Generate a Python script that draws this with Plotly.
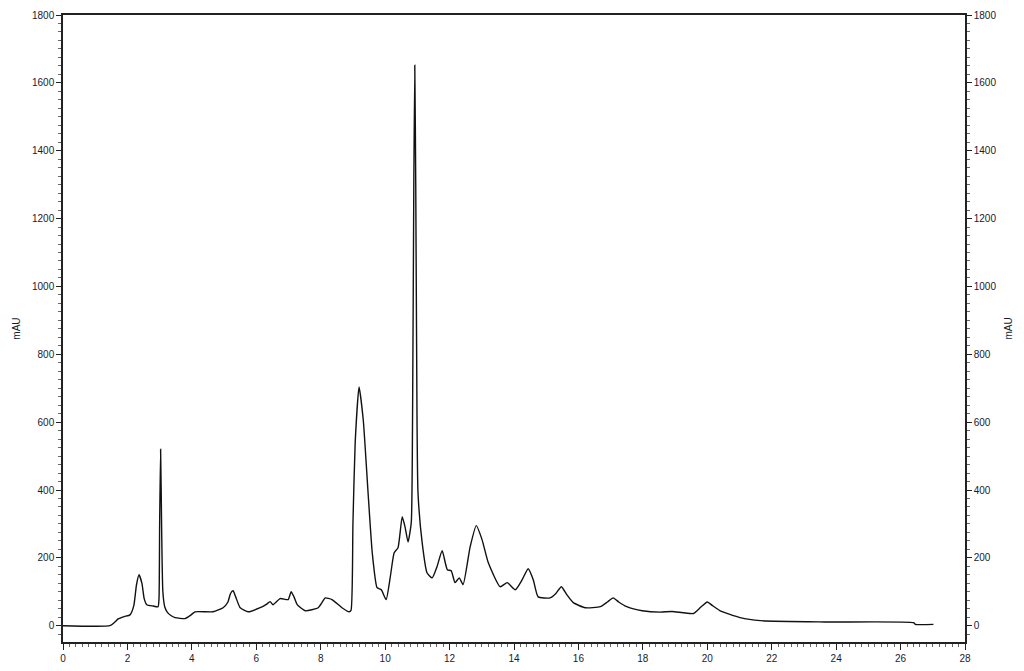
import plotly.graph_objects as go

# retention time (min) and absorbance (mAU)
time_min = [
    0.0, 1.46, 1.6, 1.71, 1.9, 2.08, 2.2, 2.28, 2.36, 2.45, 2.52, 2.6, 2.8, 2.95,
    2.98, 3.0, 3.03, 3.06, 3.1, 3.16, 3.23, 3.35, 3.48, 3.79, 3.95, 4.1, 4.66,
    4.97, 5.12, 5.2, 5.28, 5.36, 5.5, 5.75, 6.12, 6.3, 6.43, 6.52, 6.74, 6.99,
    7.08, 7.17, 7.27, 7.52, 7.92, 8.05, 8.14, 8.35, 8.66, 8.88, 8.94, 9.0, 9.07,
    9.19, 9.32, 9.47, 9.6, 9.75, 9.88, 10.03, 10.16, 10.28, 10.4, 10.53, 10.62,
    10.71, 10.81, 10.85, 10.89, 10.92, 10.95, 10.99, 11.02, 11.15, 11.3, 11.46,
    11.61, 11.77, 11.93, 12.05, 12.17, 12.3, 12.42, 12.64, 12.83, 13.01, 13.2,
    13.57, 13.79, 14.04, 14.25, 14.44, 14.6, 14.75, 15.12, 15.3, 15.47, 15.65,
    15.84, 16.21, 16.68, 16.9, 17.08, 17.25, 17.5, 17.98, 18.54, 18.91, 19.57,
    19.8, 20.0, 20.15, 20.4, 21.02, 21.65, 23.66, 26.4, 26.46, 27.02,
]
absorbance_mau = [
    0, 0, 10, 20, 27, 32, 60, 120, 150, 125, 80, 62, 58, 56,
    80, 300, 520, 300, 100, 55, 41, 30, 24, 21, 30, 41, 41,
    53, 70, 95, 103, 85, 53, 41, 53, 62, 71, 62, 80, 77,
    100, 85, 62, 44, 53, 70, 82, 77, 53, 41, 45, 300, 539,
    704, 607, 392, 215, 112, 106, 77, 144, 215, 230, 321, 290,
    247, 303, 600, 1300, 1652, 1300, 600, 392, 244, 156, 141,
    174, 221, 165, 162, 127, 141, 121, 233, 295, 253, 186,
    115, 127, 106, 135, 168, 135, 85, 82, 95, 115, 90,
    68, 53, 56, 70, 82, 70, 56, 44, 40, 42, 36,
    55, 70, 60, 44, 24, 15, 11, 9, 4, 4,
]

x_ticks = list(range(0, 29, 2))
y_ticks = list(range(0, 1801, 200))
y_range = [-48, 1800]

axis_font = dict(family="Liberation Sans, Arial, sans-serif", size=10, color="#1a1a2e")

fig = go.Figure()
fig.add_trace(go.Scatter(
    x=time_min, y=absorbance_mau, mode="lines",
    line=dict(color="#111111", width=1.4, shape="spline", smoothing=0.5),
    showlegend=False, hoverinfo="x+y",
))
# invisible trace so the right-hand axis is drawn
fig.add_trace(go.Scatter(
    x=[time_min[0]], y=[absorbance_mau[0]], yaxis="y2", mode="lines",
    line=dict(width=0), showlegend=False, hoverinfo="skip",
))

fig.update_layout(
    width=1024, height=671,
    margin=dict(l=63, r=59, t=15, b=29),
    paper_bgcolor="white", plot_bgcolor="white",
    font=axis_font,
    xaxis=dict(
        range=[0, 28], tickvals=x_ticks, showgrid=False, zeroline=False,
        showline=True, linecolor="#222", linewidth=1.5, mirror=True,
        ticks="outside", ticklen=6, tickcolor="#222", tickfont=axis_font,
        minor=dict(dtick=0.2, ticks="outside", ticklen=3, tickcolor="#666"),
        automargin=False,
    ),
    yaxis=dict(
        range=y_range, tickvals=y_ticks, showgrid=False, zeroline=False,
        showline=True, linecolor="#222", linewidth=1.5,
        ticks="outside", ticklen=5, tickcolor="#222", tickfont=axis_font,
        minor=dict(dtick=25, ticks="outside", ticklen=3, tickcolor="#666"),
        title=dict(text="mAU", font=axis_font, standoff=10),
        automargin=False,
    ),
    yaxis2=dict(
        range=y_range, tickvals=y_ticks, overlaying="y", side="right",
        showgrid=False, zeroline=False,
        showline=True, linecolor="#222", linewidth=1.5,
        ticks="outside", ticklen=5, tickcolor="#222", tickfont=axis_font,
        minor=dict(dtick=25, ticks="outside", ticklen=3, tickcolor="#666"),
        title=dict(text="mAU", font=axis_font, standoff=10),
        automargin=False,
    ),
)

# drop the browser's default body margin so the figure fills the window
fig.write_html("out.html", config={"displayModeBar": False},
               post_script="document.body.style.margin='0';")
